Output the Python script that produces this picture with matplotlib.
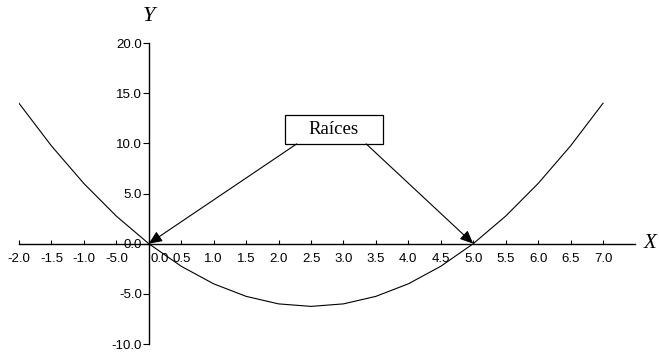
import matplotlib
matplotlib.use("Agg")
import matplotlib.pyplot as plt
import matplotlib.transforms as mtransforms
from matplotlib.patches import Rectangle

# Data
x_vals = [-2.0, -1.5, -1.0, -0.5, 0.0, 0.5, 1.0, 1.5, 2.0, 2.5, 3.0, 3.5, 4.0, 4.5, 5.0, 5.5, 6.0, 6.5, 7.0]
y_vals = [14.0, 9.75, 6.0, 2.75, 0.0, -2.25, -4.0, -5.25, -6.0, -6.25, -6.0, -5.25, -4.0, -2.25, 0.0, 2.75, 6.0, 9.75, 14.0]
roots = [0.0, 5.0]

xtick_pos = [-2.0, -1.5, -1.0, -0.5, 0.0, 0.5, 1.0, 1.5, 2.0, 2.5, 3.0, 3.5, 4.0, 4.5, 5.0, 5.5, 6.0, 6.5, 7.0]
xtick_lab = ["-2.0", "-1.5", "-1.0", "-5.0", "0.0", "0.5", "1.0", "1.5", "2.0", "2.5", "3.0",
             "3.5", "4.0", "4.5", "5.0", "5.5", "6.0", "6.5", "7.0"]
ytick_pos = [-10.0, -5.0, 0.0, 5.0, 10.0, 15.0, 20.0]
ytick_lab = ["-10.0", "-5.0", "0.0", "5.0", "10.0", "15.0", "20.0"]
annot_text = "Raíces"

fig = plt.figure(figsize=(6.59, 3.52), dpi=100)
ax = fig.add_axes([0.0288, 0.0227, 0.9355, 0.855])
ax.set_xlim(-2.0, 7.5)
ax.set_ylim(-10.0, 20.0)

ax.plot(x_vals, y_vals, color="black", lw=0.8)

# Axes through origin
for s in ["top", "right"]:
    ax.spines[s].set_visible(False)
ax.spines["left"].set_position(("data", 0))
ax.spines["bottom"].set_position(("data", 0))
ax.spines["left"].set_linewidth(1.0)
ax.spines["bottom"].set_linewidth(1.0)

tick_font = dict(family="Liberation Sans", size=9.5)
ax.set_xticks(xtick_pos)
ax.set_xticklabels(xtick_lab, **tick_font)
ax.set_yticks(ytick_pos)
ax.set_yticklabels(ytick_lab, **tick_font)
ax.tick_params(axis="x", direction="in", length=3, width=0.8, pad=7)
ax.tick_params(axis="y", direction="out", length=4, width=0.8, pad=1)

# shift the "0.0" x label to the right of the vertical axis
for lab in ax.get_xticklabels():
    if lab.get_text() == "0.0":
        lab.set_transform(lab.get_transform() +
                          mtransforms.ScaledTranslation(8 / 72, 0, fig.dpi_scale_trans))

# Axis names
ax.text(0.0, 22.6, "Y", family="Liberation Serif", style="italic", fontsize=16,
        ha="center", va="center", clip_on=False)
ax.text(7.62, 0.0, "X", family="Liberation Serif", style="italic", fontsize=15,
        ha="left", va="center", clip_on=False)

# Annotation box with arrows to roots
ax.add_patch(Rectangle((2.10, 9.95), 1.51, 2.9, fc="white", ec="black", lw=0.9, zorder=3))
ax.text(2.85, 11.35, annot_text, family="Liberation Serif", fontsize=13.5,
        ha="center", va="center", zorder=4)
starts = [(2.28, 9.95), (3.35, 9.95)]
for r, st in zip(roots, starts):
    ax.annotate("", xy=(r, 0.0), xytext=st,
                arrowprops=dict(arrowstyle="-|>,head_length=0.8,head_width=0.35",
                                color="black", lw=0.8, shrinkA=0, shrinkB=0))

fig.savefig("out.png", dpi=100)
